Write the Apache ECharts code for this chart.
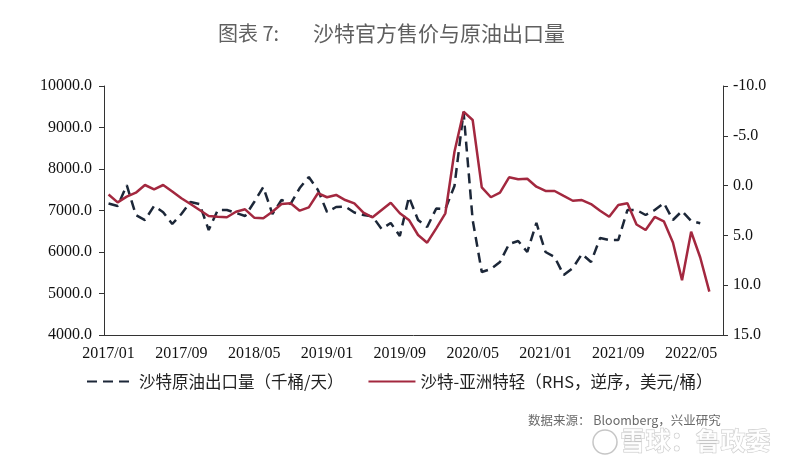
<!DOCTYPE html>
<html>
<head>
<meta charset="utf-8">
<script src="https://cdn.jsdelivr.net/npm/echarts@6/dist/echarts.min.js"></script>
<style>
html,body{margin:0;padding:0;background:#fff;}
#c{width:800px;height:463px;}
</style>
</head>
<body>
<div id="c"></div>
<script>
// Monthly categories 2017/01 .. 2022/08
const months = [];
for (let y = 2017; y <= 2022; y++) {
  for (let m = 1; m <= 12; m++) {
    if (y === 2022 && m > 8) break;
    months.push(y + '/' + (m < 10 ? '0' + m : m));
  }
}

// 沙特原油出口量（千桶/天）
const exportsKbd = [
  7170, 7110, 7610, 6890, 6770, 7110, 6960, 6675, 6915, 7205,
  7157, 6530, 7012, 7012, 6940, 6867, 7205, 7566, 6916, 7253,
  7157, 7542, 7807, 7494, 6964, 7084, 7096, 6952, 6892, 6855,
  6554, 6699, 6386, 7325, 6771, 6602, 7048, 7036, 7590, 9373,
  6771, 5518, 5590, 5759, 6193, 6265, 6000, 6699, 6000, 5880,
  5446, 5614, 5952, 5759, 6337, 6289, 6289, 7012, 7012, 6892,
  7012, 7181, 6771, 6988, 6747, 6692, null, null
];

// 沙特-亚洲特轻（RHS，逆序，美元/桶）
const osp = [
  0.9, 1.68, 1.11, 0.71, -0.06, 0.37, -0.06, 0.60, 1.27, 1.85,
  2.45, 3.05, 3.12, 3.18, 2.62, 2.38, 3.22, 3.28, 2.62, 1.85,
  1.78, 2.52, 2.18, 0.77, 1.17, 0.94, 1.45, 1.78, 2.72, 3.18,
  2.45, 1.72, 2.78, 3.45, 4.96, 5.73, 4.29, 2.78, -3.40, -7.42,
  -6.59, 0.17, 1.17, 0.71, -0.83, -0.63, -0.69, 0.11, 0.54, 0.54,
  1.04, 1.52, 1.45, 1.85, 2.52, 3.12, 1.95, 1.78, 3.91, 4.46,
  3.15, 3.58, 5.71, 9.51, 4.63, 7.22, 10.65, null
];

const leftTicks = { min: 4000, max: 10000, interval: 1000 };
const rightTicks = { min: -10, max: 15, interval: 5 };

const seriesNames = ['沙特原油出口量（千桶/天）', '沙特-亚洲特轻（RHS，逆序，美元/桶）'];
const titleLead = '图表 7:';
const titleMain = '沙特官方售价与原油出口量';
const sourceText = '数据来源： Bloomberg，兴业研究';
const watermark = '雪球：鲁政委';

const chart = echarts.init(document.getElementById('c'), null, { renderer: 'canvas' });
const serif = '"Liberation Serif", "Times New Roman", serif';
const cjk = '"Noto Sans CJK SC", sans-serif';
const axisColor = '#333';

chart.setOption({
  backgroundColor: '#fff',
  animation: false,
  grid: { left: 104, right: 77, top: 86, bottom: 128, containLabel: false },
  legend: {
    left: 81, top: 367,
    itemWidth: 47, itemHeight: 24, itemGap: 24,
    itemStyle: { opacity: 0 },
    textStyle: { fontFamily: cjk, fontSize: 16.5, color: '#222' },
    data: seriesNames
  },
  graphic: [
    { type: 'text', left: 218, top: 23, style: { text: titleLead, font: '20px ' + cjk, fill: '#5f5f5f' } },
    { type: 'text', left: 313, top: 23, style: { text: titleMain, font: '21px ' + cjk, fill: '#5f5f5f' } },
    { type: 'text', left: 528, top: 414, style: { text: sourceText, font: '12.5px ' + cjk, fill: '#6a6a6a' } },
    { type: 'text', left: 620, top: 427, z: 100, style: { text: watermark, font: 'bold 25px ' + cjk, fill: 'rgba(255,255,255,0.8)', stroke: 'rgba(160,160,160,0.6)', lineWidth: 1 } },
    { type: 'circle', shape: { cx: 605, cy: 442, r: 12 }, z: 100, style: { fill: 'rgba(255,255,255,0.6)', stroke: 'rgba(160,160,160,0.6)', lineWidth: 1.5 } }
  ],
  xAxis: {
    type: 'category',
    data: months,
    boundaryGap: true,
    axisLine: { onZero: false, lineStyle: { color: axisColor, width: 1 } },
    axisTick: { interval: 7, length: 5, lineStyle: { color: axisColor } },
    axisLabel: { interval: 7, margin: 11, fontFamily: serif, fontSize: 16, color: '#111' },
    splitLine: { show: false }
  },
  yAxis: [
    {
      type: 'value', position: 'left',
      min: leftTicks.min, max: leftTicks.max, interval: leftTicks.interval,
      axisLine: { show: true, lineStyle: { color: axisColor } },
      axisTick: { show: true, length: 5, lineStyle: { color: axisColor } },
      axisLabel: { margin: 12, fontFamily: serif, fontSize: 16, color: '#111', formatter: v => v.toFixed(1) },
      splitLine: { show: false }
    },
    {
      type: 'value', position: 'right', inverse: true,
      min: rightTicks.min, max: rightTicks.max, interval: rightTicks.interval,
      axisLine: { show: true, lineStyle: { color: axisColor } },
      axisTick: { show: true, length: 5, lineStyle: { color: axisColor } },
      axisLabel: { margin: 10, fontFamily: serif, fontSize: 16, color: '#111', formatter: v => v.toFixed(1) },
      splitLine: { show: false }
    }
  ],
  series: [
    {
      name: seriesNames[0], type: 'line', yAxisIndex: 0,
      data: exportsKbd, symbol: 'none', connectNulls: false,
      lineStyle: { color: '#1c2738', width: 2.5, type: [10, 6] },
      itemStyle: { color: '#1c2738' }
    },
    {
      name: seriesNames[1], type: 'line', yAxisIndex: 1,
      data: osp, symbol: 'none', connectNulls: false,
      lineStyle: { color: '#a3283f', width: 2.5 },
      itemStyle: { color: '#a3283f' }
    }
  ]
});
</script>
</body>
</html>
